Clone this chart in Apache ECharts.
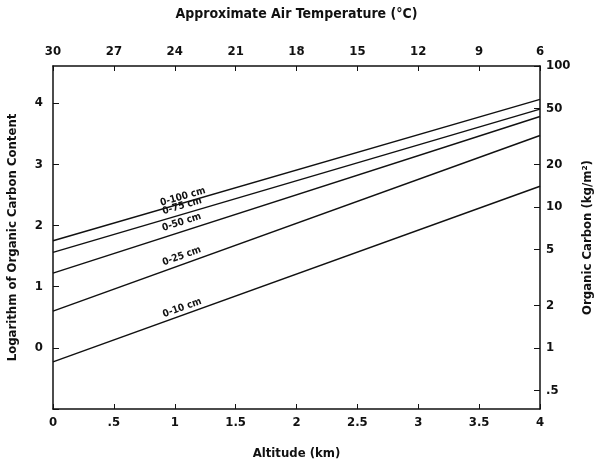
<!DOCTYPE html>
<html>
<head>
<meta charset="utf-8">
<script src="https://cdn.jsdelivr.net/npm/echarts@6/dist/echarts.min.js"></script>
<style>
html,body{margin:0;padding:0;background:#fff;}
#c{width:596px;height:464px;}
</style>
</head>
<body>
<div id="c"></div>
<script>
// ---- data ----
const altitudeKm = [0, 4];
const depthLabels = ['0-100 cm', '0-75 cm', '0-50 cm', '0-25 cm', '0-10 cm'];
const lnC_0_100 = [1.75, 4.06];
const lnC_0_75  = [1.56, 3.90];
const lnC_0_50  = [1.22, 3.78];
const lnC_0_25  = [0.60, 3.47];
const lnC_0_10  = [-0.23, 2.64];
const altitudeTickLabels = ['0', '.5', '1', '1.5', '2', '2.5', '3', '3.5', '4'];
const carbonTicks = [0.5, 1, 2, 5, 10, 20, 50, 100];
const carbonTickLabels = ['.5', '1', '2', '5', '10', '20', '50', '100'];
const tempMin = 6, tempMax = 30, tempStep = 3;

const seriesValues = [lnC_0_100, lnC_0_75, lnC_0_50, lnC_0_25, lnC_0_10];
const labelOffsets = [6, 8, 9, 8, 7];

const FONT = '"DejaVu Sans Condensed", "Liberation Sans Narrow", "DejaVu Sans", sans-serif';
const yMax = Math.log(100);
const carbonLn = carbonTicks.map(v => Math.log(v));

const chart = echarts.init(document.getElementById('c'), null, {renderer: 'canvas'});
const axisLine = {show: true, onZero: false, lineStyle: {color: '#111', width: 1.5}};
const txt = {color: '#111', fontFamily: FONT, fontWeight: 'bold', fontSize: 13};

chart.setOption({
  animation: false,
  backgroundColor: '#fff',
  grid: {left: 53, right: 56, top: 66, bottom: 55, containLabel: false, outerBoundsMode: 'none'},
  xAxis: [
    {
      type: 'value', position: 'bottom', min: 0, max: 4, interval: 0.5,
      axisLine: axisLine,
      axisTick: {inside: true, length: 5, lineStyle: {color: '#111', width: 1}},
      splitLine: {show: false},
      axisLabel: Object.assign({}, txt, {margin: 7,
        formatter: v => altitudeTickLabels[Math.round(v / 0.5)] ?? ''}),
      name: 'Altitude (km)', nameLocation: 'middle', nameGap: 38,
      nameTextStyle: Object.assign({}, txt, {fontSize: 13})
    },
    {
      type: 'value', position: 'top', min: tempMin, max: tempMax, interval: tempStep, inverse: true,
      axisLine: axisLine,
      axisTick: {inside: true, length: 5, lineStyle: {color: '#111', width: 1}},
      splitLine: {show: false},
      axisLabel: Object.assign({}, txt, {margin: 8}),
      name: 'Approximate Air Temperature (°C)', nameLocation: 'middle', nameGap: 45,
      nameTextStyle: Object.assign({}, txt, {fontSize: 14})
    }
  ],
  yAxis: [
    {
      type: 'value', position: 'left', min: -1, max: yMax, interval: 1,
      axisLine: axisLine,
      axisTick: {inside: true, length: 6, lineStyle: {color: '#111', width: 1}},
      splitLine: {show: false},
      axisLabel: Object.assign({}, txt, {margin: 10, showMaxLabel: false,
        formatter: v => (v >= 0 && v <= 4 && Math.abs(v - Math.round(v)) < 1e-6) ? String(Math.round(v)) : ''}),
      name: 'Logarithm of Organic Carbon Content', nameLocation: 'middle', nameGap: 34, nameRotate: 90,
      nameTextStyle: Object.assign({}, txt, {fontSize: 13})
    },
    {
      type: 'value', position: 'right', min: -1, max: yMax,
      axisLine: axisLine,
      axisTick: {inside: true, length: 6, customValues: carbonLn, lineStyle: {color: '#111', width: 1}},
      splitLine: {show: false},
      axisLabel: Object.assign({}, txt, {margin: 6, customValues: carbonLn,
        formatter: v => {
          let best = 0, d = Infinity;
          carbonLn.forEach((c, i) => { if (Math.abs(c - v) < d) { d = Math.abs(c - v); best = i; } });
          return carbonTickLabels[best];
        }}),
      name: 'Organic Carbon (kg/m²)', nameLocation: 'middle', nameGap: 36, nameRotate: 90,
      nameTextStyle: Object.assign({}, txt, {fontSize: 13})
    }
  ],
  series: seriesValues.map((vals, i) => ({
    type: 'line', name: depthLabels[i], xAxisIndex: 0, yAxisIndex: 0,
    data: altitudeKm.map((x, j) => [x, vals[j]]),
    symbol: 'none', lineStyle: {color: '#111', width: 1.5}
  }))
});

// rotated line labels placed via the chart's own scales
const labelX = 1.08;
const graphics = seriesValues.map((vals, i) => {
  const p0 = chart.convertToPixel({xAxisIndex: 0, yAxisIndex: 0}, [altitudeKm[0], vals[0]]);
  const p1 = chart.convertToPixel({xAxisIndex: 0, yAxisIndex: 0}, [altitudeKm[1], vals[1]]);
  const t = (labelX - altitudeKm[0]) / (altitudeKm[1] - altitudeKm[0]);
  const px = p0[0] + (p1[0] - p0[0]) * t;
  const py = p0[1] + (p1[1] - p0[1]) * t;
  const ang = Math.atan2(-(p1[1] - p0[1]), p1[0] - p0[0]);
  const off = labelOffsets[i];
  const cx = px - Math.sin(ang) * off;
  const cy = py - Math.cos(ang) * off;
  return {
    type: 'text', x: cx, y: cy, rotation: ang, originX: 0, originY: 0,
    style: {text: depthLabels[i], x: 0, y: 0, align: 'center', verticalAlign: 'middle',
      fill: '#111', font: 'bold 10px ' + FONT}
  };
});
chart.setOption({graphic: graphics});
</script>
</body>
</html>
